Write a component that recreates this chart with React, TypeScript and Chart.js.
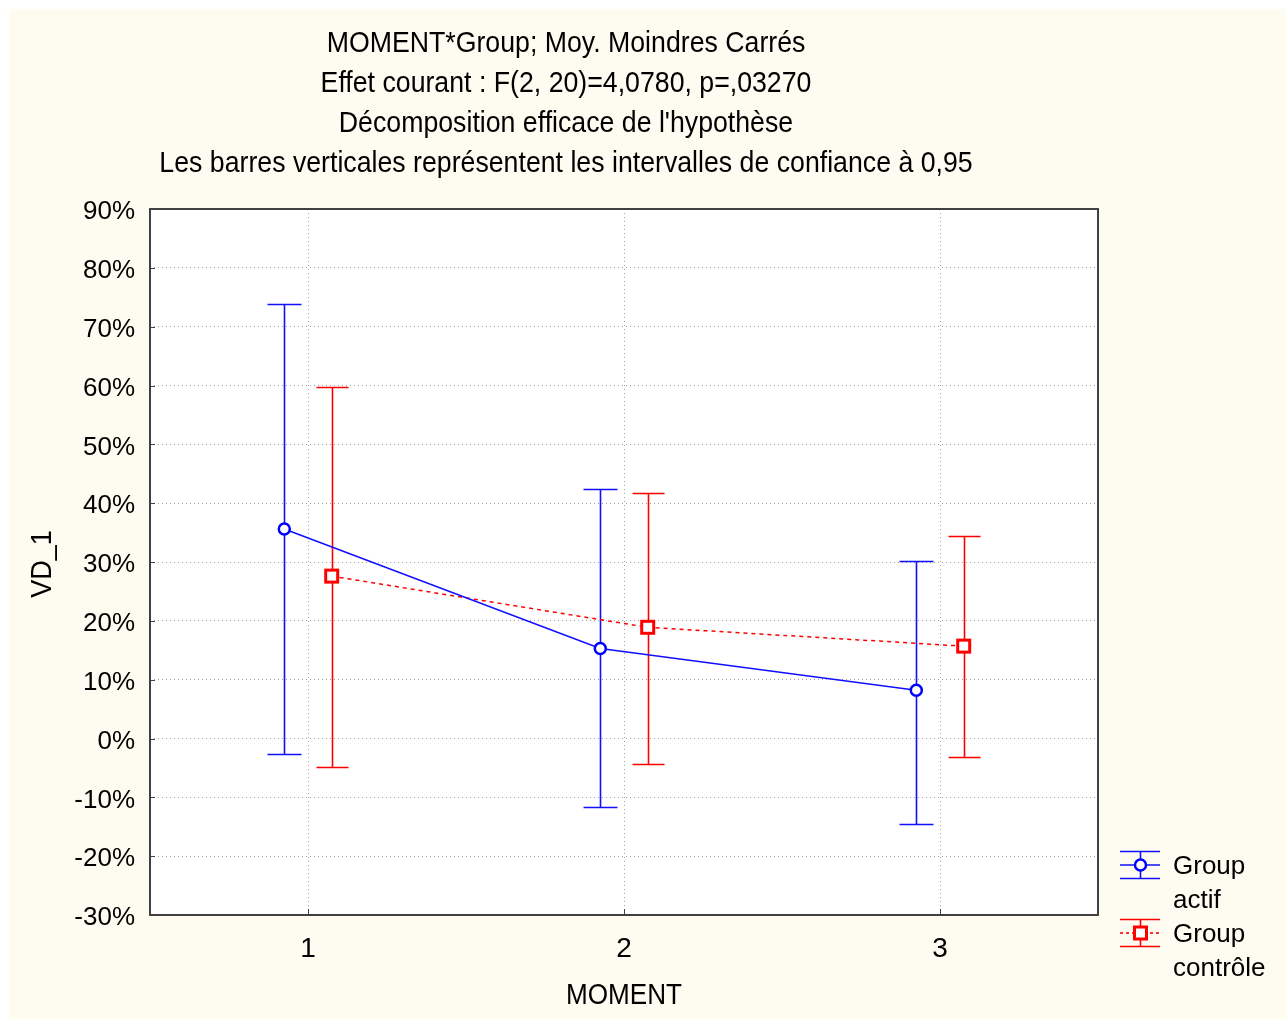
import React, { useEffect, useRef } from "react";
import { Chart, registerables } from "chart.js";

Chart.register(...registerables);

const moments = [1, 2, 3];
const yTicks = [-30, -20, -10, 0, 10, 20, 30, 40, 50, 60, 70, 80, 90];

const actifMean = [35.6, 15.3, 8.2];
const actifLow = [-2.7, -11.6, -14.5];
const actifHigh = [73.9, 42.4, 30.1];

const controleMean = [27.6, 18.9, 15.7];
const controleLow = [-4.9, -4.3, -3.2];
const controleHigh = [59.7, 41.7, 34.4];

const titleLines = [
  "MOMENT*Group; Moy. Moindres Carrés",
  "Effet courant : F(2, 20)=4,0780, p=,03270",
  "Décomposition efficace de l'hypothèse",
  "Les barres verticales représentent les intervalles de confiance à 0,95",
];
const xAxisTitle = "MOMENT";
const yAxisTitle = "VD_1";

const BLUE = "#1010ff";
const RED = "#ff0000";
const OFFSET = 0.075;
const REG = '"Liberation Sans", Arial, sans-serif';

function drawCircle(ctx: CanvasRenderingContext2D, x: number, y: number) {
  ctx.save();
  ctx.beginPath();
  ctx.arc(x, y, 5.5, 0, Math.PI * 2);
  ctx.fillStyle = "#ffffff";
  ctx.fill();
  ctx.lineWidth = 2.5;
  ctx.strokeStyle = "#0000ff";
  ctx.stroke();
  ctx.restore();
}

function drawSquare(ctx: CanvasRenderingContext2D, x: number, y: number) {
  ctx.save();
  ctx.fillStyle = "#ffffff";
  ctx.fillRect(x - 6, y - 6, 12, 12);
  ctx.lineWidth = 3;
  ctx.strokeStyle = RED;
  ctx.strokeRect(x - 6, y - 6, 12, 12);
  ctx.restore();
}

function narrowText(ctx: CanvasRenderingContext2D, text: string, x: number, y: number, size: number, sx: number, rotate = false) {
  ctx.save();
  ctx.translate(x, y);
  if (rotate) ctx.rotate(-Math.PI / 2);
  ctx.scale(sx, 1);
  ctx.font = `${size}px ${REG}`;
  ctx.fillStyle = "#000000";
  ctx.textAlign = "center";
  ctx.textBaseline = "middle";
  ctx.fillText(text, 0, 0);
  ctx.restore();
}

const customPlugin = {
  id: "statisticaDecor",
  beforeDraw(chart: any) {
    const { ctx, width, height, chartArea } = chart;
    ctx.save();
    ctx.fillStyle = "#ffffff";
    ctx.fillRect(0, 0, width, height);
    ctx.fillStyle = "#fefcf0";
    ctx.fillRect(9, 9, width - 9, height - 9);
    ctx.fillStyle = "#ffffff";
    ctx.fillRect(chartArea.left, chartArea.top, chartArea.right - chartArea.left, chartArea.bottom - chartArea.top);
    ctx.restore();
  },
  beforeDatasetsDraw(chart: any) {
    const { ctx, scales } = chart;
    const xs = scales.x;
    const ys = scales.y;
    ctx.save();
    const drawBars = (means: number[], lows: number[], highs: number[], off: number, color: string, half: number) => {
      ctx.strokeStyle = color;
      ctx.lineWidth = 1.6;
      means.forEach((_, i) => {
        const px = Math.round(xs.getPixelForValue(moments[i] + off)) + 0.5;
        const yl = Math.round(ys.getPixelForValue(lows[i])) + 0.5;
        const yh = Math.round(ys.getPixelForValue(highs[i])) + 0.5;
        ctx.beginPath();
        ctx.moveTo(px, yl);
        ctx.lineTo(px, yh);
        ctx.moveTo(px - half, yl);
        ctx.lineTo(px + half, yl);
        ctx.moveTo(px - half, yh);
        ctx.lineTo(px + half, yh);
        ctx.stroke();
      });
    };
    drawBars(actifMean, actifLow, actifHigh, -OFFSET, BLUE, 17);
    drawBars(controleMean, controleLow, controleHigh, OFFSET, RED, 16);
    ctx.restore();
  },
  afterDatasetsDraw(chart: any) {
    const { ctx, chartArea, scales } = chart;
    const xs = scales.x;
    const ys = scales.y;
    ctx.save();
    actifMean.forEach((v, i) => drawCircle(ctx, xs.getPixelForValue(moments[i] - OFFSET), ys.getPixelForValue(v)));
    controleMean.forEach((v, i) => drawSquare(ctx, xs.getPixelForValue(moments[i] + OFFSET), ys.getPixelForValue(v)));

    // inner tick marks
    ctx.strokeStyle = "#404040";
    ctx.lineWidth = 1;
    yTicks.forEach((t) => {
      const py = Math.round(ys.getPixelForValue(t)) + 0.5;
      ctx.beginPath();
      ctx.moveTo(chartArea.left, py);
      ctx.lineTo(chartArea.left + 5, py);
      ctx.stroke();
    });
    moments.forEach((m) => {
      const px = Math.round(xs.getPixelForValue(m)) + 0.5;
      ctx.beginPath();
      ctx.moveTo(px, chartArea.bottom);
      ctx.lineTo(px, chartArea.bottom - 6);
      ctx.stroke();
    });

    // frame
    ctx.strokeStyle = "#404040";
    ctx.lineWidth = 2;
    ctx.strokeRect(chartArea.left, chartArea.top, chartArea.right - chartArea.left, chartArea.bottom - chartArea.top);

    // title
    titleLines.forEach((line, i) => narrowText(ctx, line, 566, 44 + i * 40, 30, 0.89));

    // axis titles
    narrowText(ctx, xAxisTitle, (chartArea.left + chartArea.right) / 2, 996, 30, 0.87);
    narrowText(ctx, yAxisTitle, 43, 564, 30, 0.9, true);

    // legend
    const lx0 = 1120;
    const lx1 = 1160;
    const lxc = 1140.5;
    ctx.strokeStyle = BLUE;
    ctx.lineWidth = 1.6;
    ctx.beginPath();
    ctx.moveTo(lx0, 851.5); ctx.lineTo(lx1, 851.5);
    ctx.moveTo(lx0, 878.5); ctx.lineTo(lx1, 878.5);
    ctx.moveTo(lx0, 865); ctx.lineTo(lx1, 865);
    ctx.moveTo(lxc, 851.5); ctx.lineTo(lxc, 878.5);
    ctx.stroke();
    drawCircle(ctx, lxc, 865);
    ctx.strokeStyle = RED;
    ctx.beginPath();
    ctx.moveTo(lx0, 919.5); ctx.lineTo(lx1, 919.5);
    ctx.moveTo(lx0, 946.5); ctx.lineTo(lx1, 946.5);
    ctx.moveTo(lxc, 919.5); ctx.lineTo(lxc, 946.5);
    ctx.stroke();
    ctx.setLineDash([3, 3]);
    ctx.beginPath();
    ctx.moveTo(lx0, 933); ctx.lineTo(lx1, 933);
    ctx.stroke();
    ctx.setLineDash([]);
    drawSquare(ctx, lxc, 933);

    ctx.fillStyle = "#000000";
    ctx.font = `26px ${REG}`;
    ctx.textAlign = "left";
    ctx.textBaseline = "middle";
    ctx.fillText("Group", 1173, 867);
    ctx.fillText("actif", 1173, 901);
    ctx.fillText("Group", 1173, 935);
    ctx.fillText("contrôle", 1173, 969);
    ctx.restore();
  },
};

export default function App() {
  const ref = useRef<HTMLCanvasElement | null>(null);

  useEffect(() => {
    if (!ref.current) return;
    const chart = new Chart(ref.current, {
      type: "scatter",
      data: {
        datasets: [
          {
            label: "Group actif",
            data: moments.map((m, i) => ({ x: m - OFFSET, y: actifMean[i] })),
            showLine: true,
            borderColor: BLUE,
            borderWidth: 1.5,
            pointRadius: 0,
            pointHoverRadius: 0,
          },
          {
            label: "Group contrôle",
            data: moments.map((m, i) => ({ x: m + OFFSET, y: controleMean[i] })),
            showLine: true,
            borderColor: RED,
            borderWidth: 1.5,
            borderDash: [4, 4],
            pointRadius: 0,
            pointHoverRadius: 0,
          },
        ],
      },
      options: {
        animation: false,
        responsive: false,
        maintainAspectRatio: false,
        events: [],
        layout: { padding: { left: 0, right: 188, top: 209, bottom: 0 } },
        plugins: {
          legend: { display: false },
          title: { display: false },
          tooltip: { enabled: false },
        },
        scales: {
          x: {
            type: "linear",
            min: 0.5,
            max: 3.5,
            afterBuildTicks: (scale: any) => {
              scale.ticks = moments.map((m) => ({ value: m }));
            },
            afterFit: (scale: any) => {
              scale.height = 104;
            },
            grid: {
              color: "#a0a0a0",
              lineWidth: 1,
              drawTicks: false,
            },
            border: { display: false, dash: [1, 3] },
            ticks: {
              color: "#000000",
              font: { family: REG, size: 28 },
              padding: 17,
              callback: (v: any) => String(v),
            },
          },
          y: {
            min: -30,
            max: 90,
            afterBuildTicks: (scale: any) => {
              scale.ticks = yTicks.map((t) => ({ value: t }));
            },
            afterFit: (scale: any) => {
              scale.width = 150;
            },
            grid: {
              color: "#a0a0a0",
              lineWidth: 1,
              drawTicks: false,
            },
            border: { display: false, dash: [1, 3] },
            ticks: {
              color: "#000000",
              font: { family: REG, size: 26 },
              padding: 15,
              labelOffset: 3,
              callback: (v: any) => `${v}%`,
            },
          },
        },
      },
      plugins: [customPlugin],
    });
    return () => chart.destroy();
  }, []);

  return (
    <div style={{ position: "absolute", left: 0, top: 0, width: 1286, height: 1019 }}>
      <canvas ref={ref} width={1286} height={1019} style={{ display: "block" }} />
    </div>
  );
}
